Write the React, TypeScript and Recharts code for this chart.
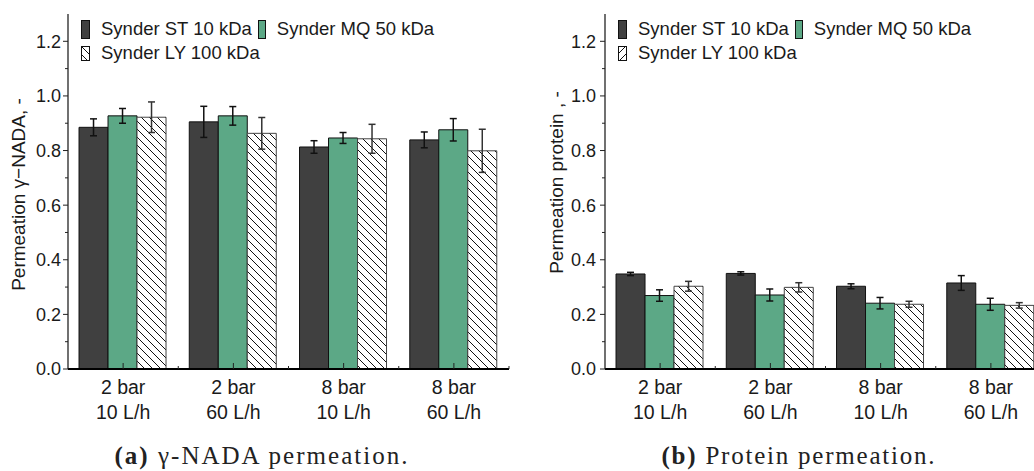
import { BarChart, Bar, XAxis, YAxis, ErrorBar, Legend } from 'recharts';

// operating conditions, one group of bars per entry (pressure \n flow)
const categories = ['2 bar\n10 L/h', '2 bar\n60 L/h', '8 bar\n10 L/h', '8 bar\n60 L/h'];
const seriesNames = ['Synder ST 10 kDa', 'Synder MQ 50 kDa', 'Synder LY 100 kDa'];

// gamma-NADA permeation
const nadaST = [0.885, 0.905, 0.813, 0.839];
const nadaSTErr = [0.031, 0.057, 0.023, 0.029];
const nadaMQ = [0.927, 0.927, 0.846, 0.876];
const nadaMQErr = [0.027, 0.034, 0.02, 0.041];
const nadaLY = [0.922, 0.863, 0.843, 0.799];
const nadaLYErr = [0.056, 0.058, 0.053, 0.079];

// protein permeation
const protST = [0.348, 0.35, 0.303, 0.315];
const protSTErr = [0.006, 0.006, 0.009, 0.027];
const protMQ = [0.269, 0.271, 0.241, 0.237];
const protMQErr = [0.021, 0.022, 0.021, 0.022];
const protLY = [0.303, 0.299, 0.237, 0.233];
const protLYErr = [0.018, 0.017, 0.011, 0.01];

const yTicks = [0, 0.1, 0.2, 0.3, 0.4, 0.5, 0.6, 0.7, 0.8, 0.9, 1.0, 1.1, 1.2];

const DARK = '#404040';
const GREEN = '#5ca886';
const FONT = '"Liberation Sans", Arial, sans-serif';
const SERIF = '"Liberation Serif", "DejaVu Serif", serif';

const buildRows = (st: number[], stErr: number[], mq: number[], mqErr: number[], ly: number[], lyErr: number[]) =>
  categories.map((c, i) => ({
    cond: c,
    st: st[i],
    stErr: stErr[i],
    mq: mq[i],
    mqErr: mqErr[i],
    ly: ly[i],
    lyErr: lyErr[i],
  }));

const nadaRows = buildRows(nadaST, nadaSTErr, nadaMQ, nadaMQErr, nadaLY, nadaLYErr);
const protRows = buildRows(protST, protSTErr, protMQ, protMQErr, protLY, protLYErr);

function YTick({ x, y, payload, gap }: any) {
  const v = payload.value as number;
  const major = Math.round(v * 10) % 2 === 0;
  return (
    <g>
      <line x1={x - (major ? 5 : 3)} x2={x} y1={y} y2={y} stroke="#222" strokeWidth={1} />
      {major && (
        <text x={x - gap} y={y} dy="0.36em" textAnchor="end" fontSize={18} fill="#1a1a1a" fontFamily={FONT}>
          {v.toFixed(1)}
        </text>
      )}
    </g>
  );
}

function XTick({ x, y, payload }: any) {
  const [top, bottom] = String(payload.value).split('\n');
  const half = payload.offset ?? 55;
  return (
    <g>
      <line x1={x} x2={x} y1={y} y2={y - 6} stroke="#222" strokeWidth={1} />
      <line x1={x + half} x2={x + half} y1={y} y2={y - 3} stroke="#222" strokeWidth={1} />
      <text textAnchor="middle" fontSize={19.5} fill="#1a1a1a" fontFamily={FONT}>
        <tspan x={x} y={y + 25}>{top}</tspan>
        <tspan x={x} y={y + 50}>{bottom}</tspan>
      </text>
    </g>
  );
}

function LegendBox({ hatchId }: { hatchId: string }) {
  const row: React.CSSProperties = { display: 'flex', alignItems: 'center', height: 24, whiteSpace: 'nowrap' };
  const text: React.CSSProperties = { fontSize: 18.5, color: '#1a1a1a', fontFamily: FONT };
  return (
    <div style={{ paddingLeft: 13, paddingTop: 3 }}>
      <div style={row}>
        <svg width={9} height={19}><rect x={0.5} y={0.5} width={8} height={18} fill={DARK} stroke="#111" /></svg>
        <span style={{ ...text, marginLeft: 11 }}>{seriesNames[0]}</span>
        <svg width={8} height={19} style={{ marginLeft: 6 }}><rect x={0.5} y={0.5} width={7} height={18} fill={GREEN} stroke="#111" /></svg>
        <span style={{ ...text, marginLeft: 11 }}>{seriesNames[1]}</span>
      </div>
      <div style={row}>
        <svg width={9} height={15}><rect x={0.5} y={0.5} width={8} height={14} fill={`url(#${hatchId})`} stroke="#111" /></svg>
        <span style={{ ...text, marginLeft: 11 }}>{seriesNames[2]}</span>
      </div>
    </div>
  );
}

function AxisTitle({ viewBox, value, dx, dy }: any) {
  const cx = viewBox.x + dx;
  const cy = viewBox.y + viewBox.height / 2 + dy;
  return (
    <text x={cx} y={cy} transform={`rotate(-90 ${cx} ${cy})`} textAnchor="middle" dy="0.36em" fontSize={19} fill="#1a1a1a" fontFamily={FONT}>
      {value}
    </text>
  );
}

interface PanelProps {
  rows: typeof nadaRows;
  width: number;
  yWidth: number;
  rightMargin: number;
  tickGap: number;
  yTitle: string;
  titleDx: number;
  titleDy: number;
  legendHatch: string;
}

function Panel({ rows, width, yWidth, rightMargin, tickGap, yTitle, titleDx, titleDy, legendHatch }: PanelProps) {
  return (
    <BarChart
      width={width}
      height={471}
      data={rows}
      margin={{ top: 14, right: rightMargin, bottom: 42, left: 0 }}
      barCategoryGap="10%"
      barGap={0}
    >
      <XAxis
        dataKey="cond"
        height={60}
        tickSize={0}
        tickMargin={0}
        tickLine={false}
        tick={<XTick />}
        axisLine={{ stroke: '#000', strokeWidth: 2 }}
        interval={0}
      />
      <XAxis xAxisId="frame" orientation="top" dataKey="cond" height={0} tick={false} tickLine={false} axisLine={{ stroke: '#555', strokeWidth: 1.5 }} />
      <YAxis
        width={yWidth}
        domain={[0, 1.3]}
        ticks={yTicks}
        tickSize={0}
        tickMargin={0}
        tickLine={false}
        tick={<YTick gap={tickGap} />}
        axisLine={{ stroke: '#111', strokeWidth: 1.2 }}
        label={<AxisTitle value={yTitle} dx={titleDx} dy={titleDy} />}
        interval={0}
      />
      <YAxis yAxisId="frame" orientation="right" width={0} tick={false} tickLine={false} axisLine={{ stroke: '#555', strokeWidth: 1.5 }} />
      <Legend
        layout="horizontal"
        verticalAlign="middle"
        align="center"
        wrapperStyle={{ top: 14, left: yWidth, width: 440, height: 60 }}
        content={() => <LegendBox hatchId={legendHatch} />}
      />
      <Bar dataKey="st" fill={DARK} stroke="#111" strokeWidth={1} isAnimationActive={false}>
        <ErrorBar dataKey="stErr" width={3.5} stroke="#111" strokeWidth={1.5} />
      </Bar>
      <Bar dataKey="mq" fill={GREEN} stroke="#111" strokeWidth={1} isAnimationActive={false}>
        <ErrorBar dataKey="mqErr" width={3.5} stroke="#111" strokeWidth={1.5} />
      </Bar>
      <Bar dataKey="ly" fill="url(#hatchBack)" stroke="#444" strokeWidth={1} isAnimationActive={false}>
        <ErrorBar dataKey="lyErr" width={3.5} stroke="#333" strokeWidth={1.5} />
      </Bar>
    </BarChart>
  );
}

export default function App() {
  return (
    <div style={{ position: 'fixed', top: 0, left: 0, width: 1034, height: 471, overflow: 'hidden', background: '#fff', fontFamily: FONT }}>
      <svg width={0} height={0} style={{ position: 'absolute' }}>
        <defs>
          <pattern id="hatchBack" patternUnits="userSpaceOnUse" width={8} height={8}>
            <rect width={8} height={8} fill="#fff" />
            <path d="M0,0 L8,8 M-2,6 L2,10 M6,-2 L10,2" stroke="#111" strokeWidth={1} />
          </pattern>
          <pattern id="hatchFwd" patternUnits="userSpaceOnUse" width={8} height={8}>
            <rect width={8} height={8} fill="#fff" />
            <path d="M0,8 L8,0 M-2,2 L2,-2 M6,10 L10,6" stroke="#111" strokeWidth={1} />
          </pattern>
        </defs>
      </svg>
      <div style={{ position: 'absolute', left: 0, top: 0 }}>
        <Panel rows={nadaRows} width={520} yWidth={68} rightMargin={11} tickGap={7} yTitle="Permeation γ−NADA, -" titleDx={18} titleDy={3} legendHatch="hatchBack" />
      </div>
      <div style={{ position: 'absolute', left: 520, top: 0 }}>
        <Panel rows={protRows} width={540} yWidth={85} rightMargin={14} tickGap={9} yTitle="Permeation protein , -" titleDx={36} titleDy={-9} legendHatch="hatchFwd" />
      </div>
      <svg width={1034} height={471} style={{ position: 'absolute', left: 0, top: 0, pointerEvents: 'none' }}>
        <text x={261} y={464} textAnchor="middle" fontSize={25} fill="#222" fontFamily={SERIF} textLength={293} lengthAdjust="spacing">
          <tspan fontWeight="bold">(a)</tspan> γ-NADA permeation.
        </text>
        <text x={798} y={464} textAnchor="middle" fontSize={25} fill="#222" fontFamily={SERIF} textLength={273} lengthAdjust="spacing">
          <tspan fontWeight="bold">(b)</tspan> Protein permeation.
        </text>
      </svg>
    </div>
  );
}
